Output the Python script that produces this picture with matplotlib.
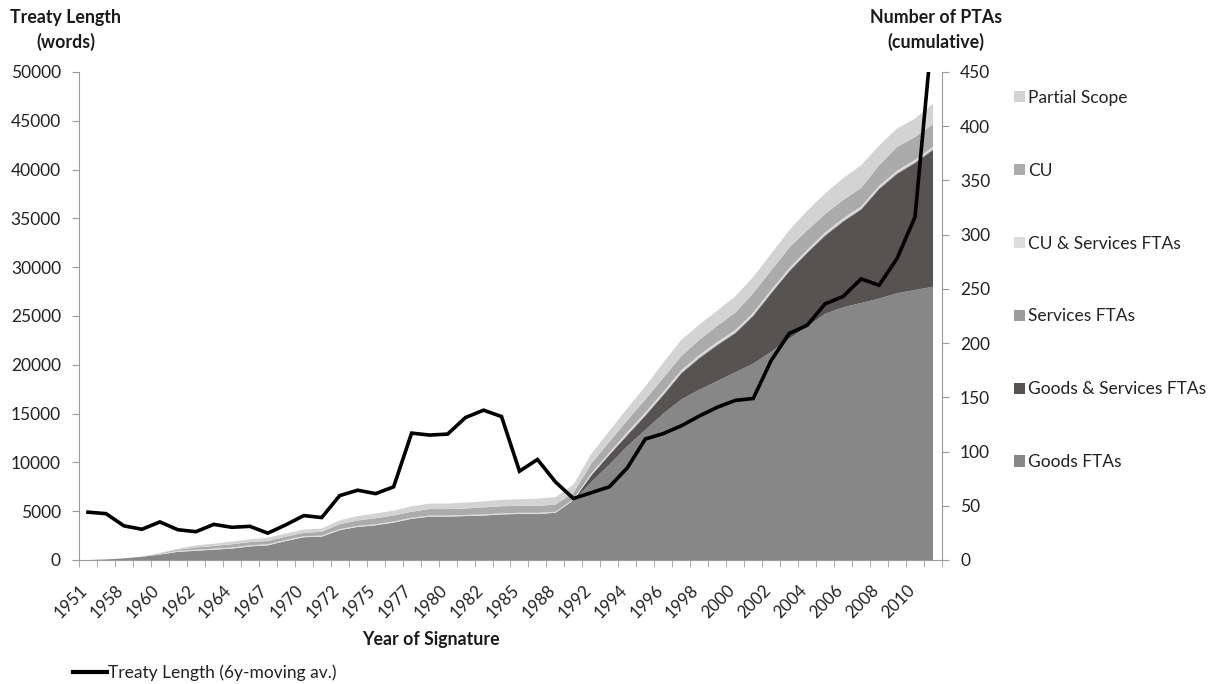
import matplotlib
matplotlib.use("Agg")
import matplotlib.pyplot as plt
import matplotlib.transforms as mtransforms
from matplotlib.lines import Line2D
from matplotlib.patches import Patch
from matplotlib.ticker import FixedLocator, NullFormatter
import numpy as np

plt.rcParams["font.family"] = ["Lato", "DejaVu Sans"]

# ---- data ---------------------------------------------------------------
years = [1951, 1957, 1958, 1959, 1960, 1961, 1962, 1963, 1964, 1965,
         1967, 1969, 1970, 1971, 1972, 1973, 1975, 1976, 1977, 1979,
         1980, 1981, 1982, 1984, 1985, 1987, 1988, 1991, 1992, 1993,
         1994, 1995, 1996, 1997, 1998, 1999, 2000, 2001, 2002, 2003,
         2004, 2005, 2006, 2007, 2008, 2009, 2010, 2011]

# treaty length, 6-year moving average (words)
treaty_length = [4900, 4750, 3500, 3150, 3900, 3100, 2900, 3650, 3350, 3450,
                 2750, 3600, 4550, 4350, 6600, 7150, 6800, 7500, 13000, 12800,
                 12900, 14600, 15350, 14700, 9100, 10300, 8000, 6300, 6900, 7500,
                 9450, 12400, 12950, 13750, 14750, 15650, 16350, 16550, 20450, 23200,
                 24050, 26250, 27000, 28800, 28150, 30900, 35150, 55000]

# cumulative number of PTAs by type
goods_ftas = [0, 0.5, 1.5, 3, 5, 7.5, 8.5, 9.5, 10.5, 12.5,
              13.5, 17.5, 21, 21.5, 27.5, 30.5, 32, 34.5, 38, 40,
              40, 40.5, 41, 42, 42.5, 42.5, 43.5, 54, 72, 88,
              105, 120, 135, 148, 157, 165, 173, 181, 192, 204,
              215, 227, 233, 237, 241, 246, 249, 252]
goods_services_ftas = [0, 0, 0, 0, 0, 0, 0, 0, 0, 0,
                       0, 0, 0, 0, 0, 0, 0, 0, 0, 0,
                       0, 0, 0, 0, 0, 0, 0, 1, 6, 9,
                       10, 13, 17, 24, 29, 33, 36, 44, 54, 62,
                       68, 72, 79, 86, 101, 110, 117, 126]
services_ftas = [0, 0, 0, 0, 0, 0, 0, 0, 0, 0,
                 0, 0, 0, 0, 0, 0, 0, 0, 0, 0,
                 0, 0, 0, 0, 0, 0, 0, 0, 0.5, 0.5,
                 1, 1, 1, 1, 1, 1, 1, 1, 1, 1,
                 1, 1, 1, 1, 1, 1, 1, 1]
cu_services_ftas = [0, 0, 0, 0, 0.5, 1, 1, 1, 1, 1,
                    1, 1, 1, 1, 1, 1, 1, 1, 1, 1,
                    1, 1, 1, 1, 1, 1, 1, 1, 1.5, 1.5,
                    2, 2, 2, 2, 2, 2, 2, 2, 2, 2,
                    2, 2, 2, 2, 2, 2, 2, 2]
cu = [0, 0, 0, 0, 0.5, 1, 2, 2.5, 3, 3,
      3, 3, 3, 3.5, 4.5, 5, 5.5, 5.5, 5.5, 6,
      6, 6, 6.5, 6.5, 6.5, 6.5, 6.5, 6, 9, 10,
      11, 12, 13, 13, 14, 15, 16, 18, 18, 19,
      18, 17, 17, 17, 19, 22, 21, 21]
partial_scope = [0, 0, 0, 0, 0.5, 1, 2, 2, 2.5, 2.5,
                 3, 3, 3, 3, 3.5, 4, 4.5, 4.5, 5, 5,
                 5, 5.5, 5.5, 6, 6, 6.5, 7, 7.5, 9, 10,
                 11, 12, 14, 15, 14, 14, 15, 15, 15.5, 16,
                 18, 19, 20, 21, 18, 17, 17, 19]

layer_names = ["Goods FTAs", "Goods & Services FTAs", "Services FTAs",
               "CU & Services FTAs", "CU", "Partial Scope"]
layer_values = [goods_ftas, goods_services_ftas, services_ftas,
                cu_services_ftas, cu, partial_scope]
layer_colors = ["#878787", "#575353", "#9c9c9c", "#dcdcdc", "#ababab", "#d3d3d3"]

# ---- figure -------------------------------------------------------------
W, H = 1215, 684
fig = plt.figure(figsize=(W / 100, H / 100), dpi=100)
left, right, bottom, top = 79, 942, 560, 72
ax = fig.add_axes([left / W, 1 - bottom / H, (right - left) / W, (bottom - top) / H])

x = np.arange(len(years))
ax.stackplot(x, *layer_values, colors=layer_colors, labels=layer_names, linewidth=0)
ax.set_ylim(0, 450)
ax.set_xlim(-0.5, len(years) - 0.5)

# words axis on the left, line drawn above the areas
axw = ax.twinx()
axw.plot(x, treaty_length, color="black", lw=2.6, solid_joinstyle="miter")
axw.set_ylim(0, 50000)

# y-axes placement: PTAs right, words left
ax.yaxis.tick_right()
axw.yaxis.tick_left()
ax.set_yticks(np.arange(0, 451, 50))
axw.set_yticks(np.arange(0, 50001, 5000))

axis_grey = "#9a9a9a"
for a in (ax, axw):
    for s in a.spines.values():
        s.set_visible(False)
ax.spines["bottom"].set_visible(True)
ax.spines["bottom"].set_color(axis_grey)
ax.spines["right"].set_visible(True)
ax.spines["right"].set_color(axis_grey)
axw.spines["left"].set_visible(True)
axw.spines["left"].set_color(axis_grey)

tick_fs = 12.5
text_col = "#222222"
ax.tick_params(axis="y", direction="out", length=5, color=axis_grey,
               labelsize=tick_fs, labelcolor=text_col, pad=8)
axw.tick_params(axis="y", direction="out", length=5, color=axis_grey,
                labelsize=tick_fs, labelcolor=text_col, pad=8)

# category axis: tick marks between categories, labels on every other year
ax.xaxis.set_major_locator(FixedLocator(x[::2]))
ax.set_xticklabels([str(y) for y in years[::2]])
ax.xaxis.set_minor_locator(FixedLocator(np.arange(-0.5, len(years), 1.0)))
ax.xaxis.set_minor_formatter(NullFormatter())
ax.tick_params(axis="x", which="major", length=0, pad=20, labelsize=12.2,
               labelcolor=text_col)
ax.tick_params(axis="x", which="minor", direction="out", length=5, color=axis_grey)
shift = mtransforms.ScaledTranslation(-3 / 100, 0, fig.dpi_scale_trans)
for lbl in ax.get_xticklabels():
    lbl.set_rotation(45)
    lbl.set_ha("right")
    lbl.set_va("center")
    lbl.set_rotation_mode("anchor")
    lbl.set_transform(lbl.get_transform() + shift)

# axis titles
title_fs = 12.8
fig.text(66 / W, 1 - 30 / H, "Treaty Length\n(words)", ha="center", va="center",
         fontsize=title_fs, fontweight="bold", linespacing=1.45, color="#1a1a1a")
fig.text(936 / W, 1 - 30 / H, "Number of PTAs\n(cumulative)", ha="center", va="center",
         fontsize=title_fs, fontweight="bold", linespacing=1.45, color="#1a1a1a")
fig.text(431 / W, 1 - 639 / H, "Year of Signature", ha="center", va="center",
         fontsize=title_fs, fontweight="bold", color="#1a1a1a")

# series legend (top layer first)
handles = [Patch(facecolor=c, edgecolor="none") for c in layer_colors][::-1]
fig.legend(handles, layer_names[::-1], loc="upper left",
           bbox_to_anchor=(998 / W, 1 - 74 / H), frameon=False,
           fontsize=tick_fs, handlelength=0.65, handleheight=0.65,
           handletextpad=0.2, labelspacing=3.28, labelcolor=text_col)

# line legend
fig.legend([Line2D([0], [0], color="black", lw=3)], ["Treaty Length (6y-moving av.)"],
           loc="center left", bbox_to_anchor=(57 / W, 1 - 673 / H), frameon=False,
           fontsize=tick_fs, handlelength=2.0, handletextpad=0.05, labelcolor=text_col)

fig.savefig("out.png", dpi=100)
